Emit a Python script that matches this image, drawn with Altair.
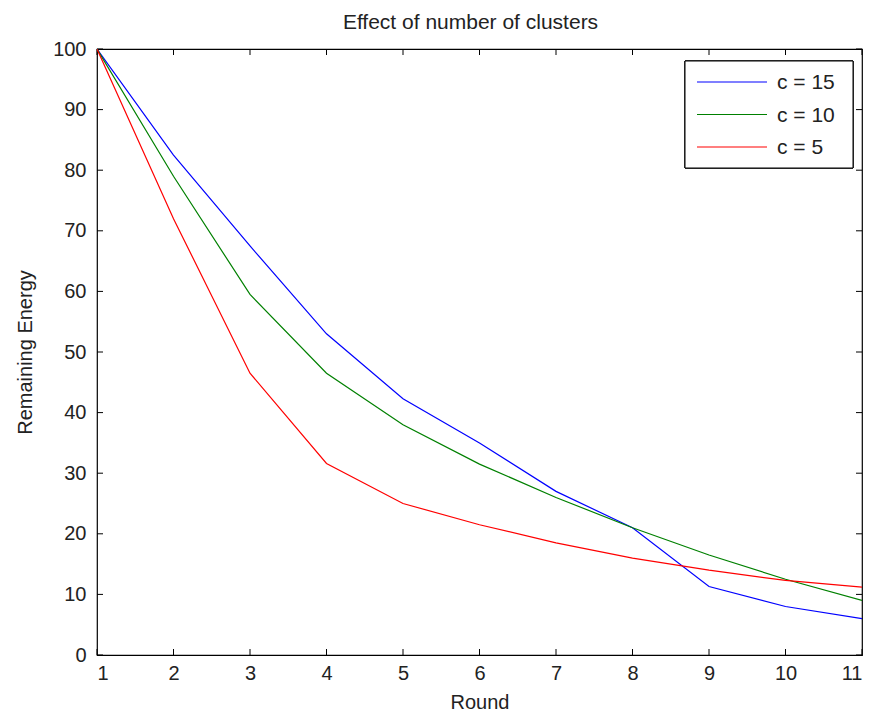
import altair as alt
import pandas as pd

rounds = [1, 2, 3, 4, 5, 6, 7, 8, 9, 10, 11]
c15 = [100, 82.5, 67.5, 53, 42.3, 35, 27, 21, 11.3, 8, 6]
c10 = [100, 79, 59.5, 46.5, 38, 31.5, 26, 21, 16.5, 12.5, 9]
c5 = [100, 72, 46.5, 31.6, 25, 21.5, 18.5, 16, 14, 12.3, 11.2]
series_names = ["c = 15", "c = 10", "c = 5"]
series_colors = ["#0000ff", "#008000", "#ff0000"]
x_ticks = list(range(1, 12))
y_ticks = list(range(0, 101, 10))

rows = []
for name, vals in zip(series_names, [c15, c10, c5]):
    for r, v in zip(rounds, vals):
        rows.append({"Round": r, "Energy": v, "series": name})
df = pd.DataFrame(rows)
leg = pd.DataFrame({"series": series_names, "idx": [0, 1, 2]})

W, H = 765, 606
FONT = "Liberation Sans"
FS = 20
TICK = 6
TXT = "#222222"

xs = alt.Scale(domain=[1, 11], nice=False, zero=False)
ys = alt.Scale(domain=[0, 100], nice=False)
cs = alt.Scale(domain=series_names, range=series_colors)

lines = alt.Chart(df).mark_line(strokeWidth=1.2, clip=True).encode(
    x=alt.X("Round:Q", scale=xs,
            axis=alt.Axis(values=x_ticks, title="Round", ticks=False, grid=False,
                          domain=False, labelPadding=8, titlePadding=9, format="d")),
    y=alt.Y("Energy:Q", scale=ys,
            axis=alt.Axis(values=y_ticks, title="Remaining Energy", ticks=False, grid=False,
                          domain=False, labelPadding=11, titleX=-66, titleY=H / 2,
                          titleBaseline="alphabetic", titleAlign="center", titleAngle=270,
                          format="d")),
    color=alt.Color("series:N", scale=cs, legend=None),
)

xt = pd.DataFrame({"t": x_ticks})
yt = pd.DataFrame({"t": y_ticks})

xb = alt.Chart(xt).mark_rule(color="black", strokeWidth=1).encode(
    x=alt.X("t:Q", scale=xs), y=alt.value(H), y2=alt.value(H - TICK))
xtop = alt.Chart(xt).mark_rule(color="black", strokeWidth=1).encode(
    x=alt.X("t:Q", scale=xs), y=alt.value(0), y2=alt.value(TICK))
yl = alt.Chart(yt).mark_rule(color="black", strokeWidth=1).encode(
    y=alt.Y("t:Q", scale=ys), x=alt.value(0), x2=alt.value(TICK))
yr = alt.Chart(yt).mark_rule(color="black", strokeWidth=1).encode(
    y=alt.Y("t:Q", scale=ys), x=alt.value(W), x2=alt.value(W - TICK))

# legend (drawn manually, MATLAB style)
ls = alt.Scale(domain=[0, 2], range=[33, 98], nice=False, zero=False)
leg_box = alt.Chart(leg).mark_rect(fill="white", stroke="black", strokeWidth=1).encode(
    x=alt.value(588), x2=alt.value(756), y=alt.value(12), y2=alt.value(119))
leg_lines = alt.Chart(leg).mark_rule(strokeWidth=1.2).encode(
    x=alt.value(600), x2=alt.value(670),
    y=alt.Y("idx:Q", scale=ls, axis=None),
    color=alt.Color("series:N", scale=cs, legend=None))
leg_text = alt.Chart(leg).mark_text(align="left", baseline="middle", font=FONT,
                                    fontSize=21, color=TXT, dy=1).encode(
    x=alt.value(680),
    y=alt.Y("idx:Q", scale=ls, axis=None),
    text="series:N")

main = alt.layer(xb, xtop, yl, yr, lines)
legend = alt.layer(leg_box, leg_lines, leg_text)

chart = alt.layer(main, legend).resolve_scale(y="independent").properties(
    width=W, height=H,
    title=alt.TitleParams("Effect of number of clusters", font=FONT, fontSize=21,
                          fontWeight="normal", color=TXT, anchor="middle", offset=6,
                          dx=-9),
    autosize=alt.AutoSizeParams(type="none"),
    padding={"left": 89, "top": 41, "right": 4, "bottom": 62},
).configure(background="white").configure_view(stroke="black", strokeWidth=1.2).configure_axis(
    labelFont=FONT, labelFontSize=FS, labelColor=TXT,
    titleFont=FONT, titleFontSize=FS, titleFontWeight="normal", titleColor=TXT,
)

chart.save("out.html", embed_options={"renderer": "svg", "actions": False})
